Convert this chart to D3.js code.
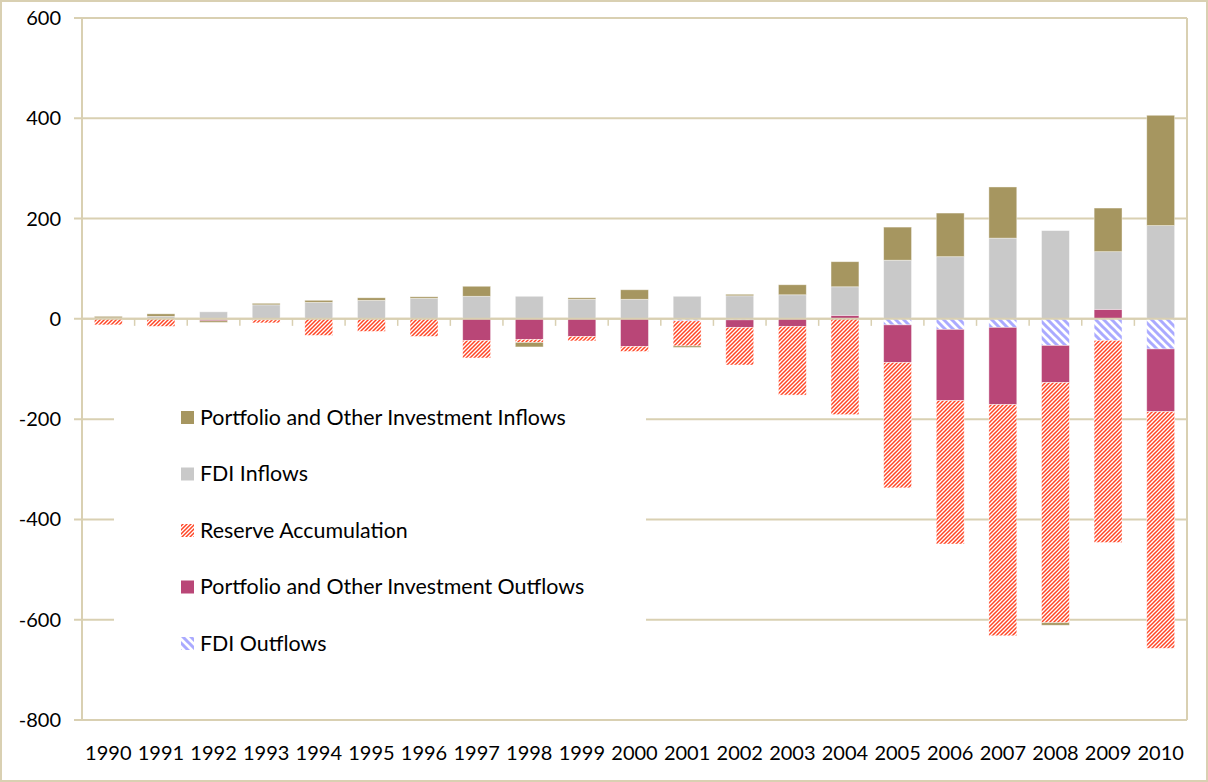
<!DOCTYPE html>
<html>
<head>
<meta charset="utf-8">
<script src="https://cdn.jsdelivr.net/npm/d3@7"></script>
<style>
  body { margin: 0; background: #fff; }
  text { font-family: Lato, "Open Sans", sans-serif; fill: #000; }
</style>
</head>
<body>
<div id="viz"></div>
<script>
// values in billions
var years = ["1990","1991","1992","1993","1994","1995","1996","1997","1998","1999","2000",
             "2001","2002","2003","2004","2005","2006","2007","2008","2009","2010"];
var fdiOutflows = [0,0,-1,-1,0,0,0,0,0,0,0,-4,-2,0,0,-12,-21,-17,-53,-43,-60];
var portfolioOutflows = [0,0,-3,-1,0,0,0,-43,-41,-35,-55,0,-15,-15,7,-75,-142,-154,-74,19,-125];
var reserveAccumulation = [-12,-15,0,-6,-33,-25,-35,-35,-6,-9,-10,-50,-75,-137,-191,-250,-286,-461,-479,-403,-472];
var fdiInflows = [2,5,14,28,33,37,41,45,45,39,39,45,46,48,57,117,124,161,176,115,186];
var portfolioInflows = [3,5,-3,3,4,5,3,20,-9,3,19,-3,3,20,50,66,87,102,-5,87,220];
var yTicks = [600,400,200,0,-200,-400,-600,-800];

// stacking order (same as the source sheet)
var seriesKeys = ["fdiOut","portOut","reserve","fdiIn","portIn"];
var rows = years.map(function(y, i) {
  return {year: y, fdiOut: fdiOutflows[i], portOut: portfolioOutflows[i],
          reserve: reserveAccumulation[i], fdiIn: fdiInflows[i], portIn: portfolioInflows[i]};
});

var legendItems = [
  {key: "portIn", label: "Portfolio and Other Investment Inflows"},
  {key: "fdiIn", label: "FDI Inflows"},
  {key: "reserve", label: "Reserve Accumulation"},
  {key: "portOut", label: "Portfolio and Other Investment Outflows"},
  {key: "fdiOut", label: "FDI Outflows"}
];

var fills = {
  portIn: "#a69660",
  fdiIn: "#c9c9c9",
  reserve: "url(#hatchRed)",
  portOut: "#b94677",
  fdiOut: "url(#hatchBlue)"
};

var W = 1208, H = 782;
var pL = 82, pR = 1187, pT = 18, pB = 720;
var lineCol = "#d9d0b2";

var svg = d3.select("#viz").append("svg")
  .attr("width", W)
  .attr("height", H);

var defs = svg.append("defs");
var pr = defs.append("pattern").attr("id", "hatchRed")
  .attr("patternUnits", "userSpaceOnUse").attr("width", 4).attr("height", 4);
pr.append("rect").attr("width", 4).attr("height", 4).attr("fill", "#fff");
pr.append("path").attr("d", "M-1,1 l2,-2 M0,4 l4,-4 M3,5 l2,-2")
  .attr("stroke", "#ff4626").attr("stroke-width", 1.5);

var pb = defs.append("pattern").attr("id", "hatchBlue")
  .attr("patternUnits", "userSpaceOnUse").attr("width", 8).attr("height", 8);
pb.append("rect").attr("width", 8).attr("height", 8).attr("fill", "#fff");
pb.append("path").attr("d", "M0,0 L8,8 M-4,4 L4,12 M4,-4 L12,4")
  .attr("stroke", "#aaaaff").attr("stroke-width", 3);

// outer frame
svg.append("rect")
  .attr("x", 1).attr("y", 1).attr("width", W - 2).attr("height", H - 2)
  .attr("fill", "none").attr("stroke", lineCol).attr("stroke-width", 2);

var x = d3.scaleBand().domain(years).range([pL, pR])
  .paddingInner(0.47).paddingOuter(0.235);
var y = d3.scaleLinear().domain([-800, 600]).range([pB, pT]);

// gridlines
svg.append("g").selectAll("line")
  .data(yTicks)
  .enter().append("line")
  .attr("x1", pL - 8).attr("x2", pR)
  .attr("y1", function(d) { return y(d); })
  .attr("y2", function(d) { return y(d); })
  .attr("stroke", lineCol).attr("stroke-width", 2);

// y labels
svg.append("g").selectAll("text")
  .data(yTicks)
  .enter().append("text")
  .attr("x", 61)
  .attr("y", function(d) { return y(d); })
  .attr("dy", "0.35em")
  .attr("text-anchor", "end")
  .style("font-size", "20px")
  .text(function(d) { return String(d); });

// bars
var stack = d3.stack().keys(seriesKeys).offset(d3.stackOffsetDiverging);
var series = stack(rows);

svg.append("g").selectAll("g")
  .data(series)
  .enter().append("g")
  .attr("fill", function(d) { return fills[d.key]; })
  .selectAll("rect")
  .data(function(d) { return d; })
  .enter().append("rect")
  .attr("x", function(d) { return x(d.data.year); })
  .attr("width", x.bandwidth())
  .attr("y", function(d) { return y(Math.max(d[0], d[1])); })
  .attr("height", function(d) { return Math.abs(y(d[0]) - y(d[1])); })
  .attr("stroke", "#fff").attr("stroke-opacity", 0.5).attr("stroke-width", 0.8);

// axes lines
svg.append("line").attr("x1", pL).attr("x2", pL).attr("y1", pT).attr("y2", pB)
  .attr("stroke", lineCol).attr("stroke-width", 2);
svg.append("line").attr("x1", pR).attr("x2", pR).attr("y1", pT).attr("y2", pB)
  .attr("stroke", lineCol).attr("stroke-width", 2);
svg.append("line").attr("x1", pL).attr("x2", pR).attr("y1", y(0)).attr("y2", y(0))
  .attr("stroke", lineCol).attr("stroke-width", 2);

// category tick marks on the zero line, at band edges
var gap = (x.step() - x.bandwidth()) / 2;
svg.append("g").selectAll("line")
  .data(years)
  .enter().append("line")
  .attr("x1", function(d) { return x(d) - gap; })
  .attr("x2", function(d) { return x(d) - gap; })
  .attr("y1", y(0)).attr("y2", y(0) + 7)
  .attr("stroke", lineCol).attr("stroke-width", 1.5);

// year labels
svg.append("g").selectAll("text")
  .data(years)
  .enter().append("text")
  .attr("x", function(d) { return x(d) + x.bandwidth() / 2; })
  .attr("y", 753)
  .attr("dy", "0.35em")
  .attr("text-anchor", "middle")
  .style("font-size", "20px")
  .text(function(d) { return d; });

// legend
var lg = svg.append("g");
lg.append("rect")
  .attr("x", 114).attr("y", 386).attr("width", 532).attr("height", 284)
  .attr("fill", "#fff");
var li = lg.selectAll("g.item")
  .data(legendItems)
  .enter().append("g").attr("class", "item")
  .attr("transform", function(d, i) { return "translate(181," + (417 + i * 56.5) + ")"; });
li.append("rect")
  .attr("x", 0).attr("y", -6).attr("width", 13).attr("height", 13)
  .attr("fill", function(d) { return fills[d.key]; });
li.append("text")
  .attr("x", 19).attr("y", 0).attr("dy", "0.35em")
  .style("font-size", "21.4px")
  .text(function(d) { return d.label; });
</script>
</body>
</html>
